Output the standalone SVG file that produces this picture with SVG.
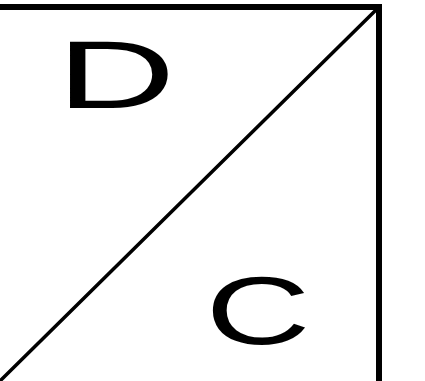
<svg xmlns="http://www.w3.org/2000/svg" width="425" height="381" viewBox="0 0 425 381">
<style>
.ln{stroke:#000;stroke-linecap:square;fill:none}
.lbl{font-family:"Liberation Sans",Arial,sans-serif;font-size:97px;fill:#000;text-anchor:middle}
</style>
<rect width="425" height="381" fill="#fff"/>
<g id="connectors">
<line class="ln" x1="0" y1="7" x2="379" y2="7" stroke-width="6"/>
<line class="ln" x1="379" y1="7" x2="379" y2="381" stroke-width="6"/>
<line class="ln" x1="379" y1="7" x2="0" y2="381" stroke-width="3.5" stroke-linecap="butt"/>
</g>
<g id="D">
<text class="lbl" transform="translate(116,108) scale(1.7,1)" x="0" y="0">D</text>
</g>
<g id="C">
<text class="lbl" transform="translate(258,344) scale(1.5,1)" x="0" y="0">C</text>
</g>
</svg>
